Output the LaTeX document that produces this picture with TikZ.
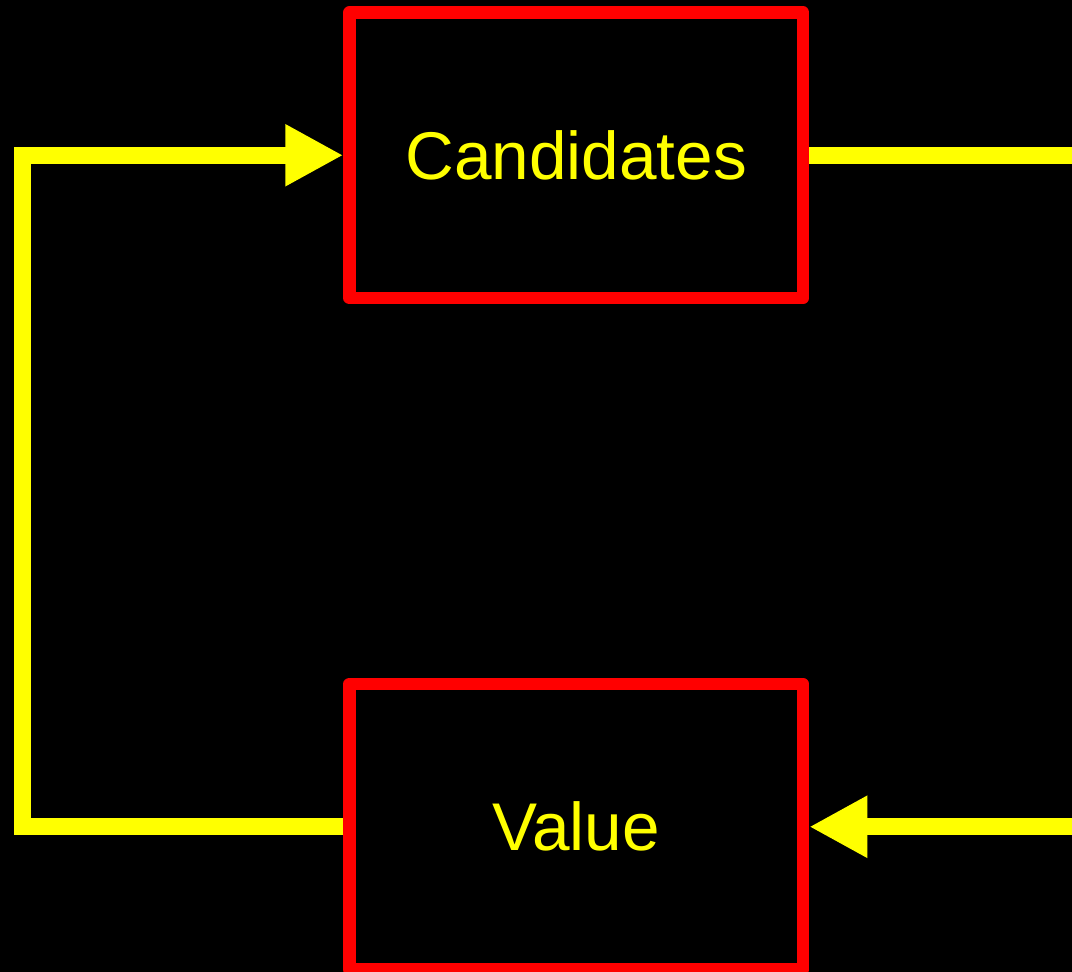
\documentclass[tikz,border=0pt]{standalone}
\usepackage{fontspec}
\setmainfont{Liberation Sans}
\usetikzlibrary{arrows.meta}
\definecolor{yel}{RGB}{255,255,0}
\definecolor{rd}{RGB}{255,0,0}
\begin{document}
\begin{tikzpicture}[x=1pt,y=-1pt,
  boxnode/.style={draw=rd,line width=12.5pt,line join=round,rectangle,
    minimum width=453.5pt,minimum height=285.5pt,inner sep=0pt,
    text=yel,font=\fontsize{67.5}{80}\selectfont},
  conn/.style={draw=yel,line width=17pt,line join=miter},
  tip/.style={-{Triangle[length=58pt,width=58pt]}}]
\useasboundingbox (0,0) rectangle (1072,972);
\fill[black] (0,0) rectangle (1072,972);
\node[boxnode] (C) at (576.25,155.25) {Candidates};
\node[boxnode] (V) at (576.25,826.75) {Value};
\coordinate (R1) at (1072,155.25);
\coordinate (R2) at (1072,826.75);
\coordinate (L1) at (22.7,826.75);
\coordinate (L2) at (22.7,155.25);
\draw[conn] (C.east) -- (R1);
\draw[conn,tip] (R2) -- (V.east);
\draw[conn,tip] (V.west) -- (L1) -- (L2) -- (C.west);
\end{tikzpicture}
\end{document}
